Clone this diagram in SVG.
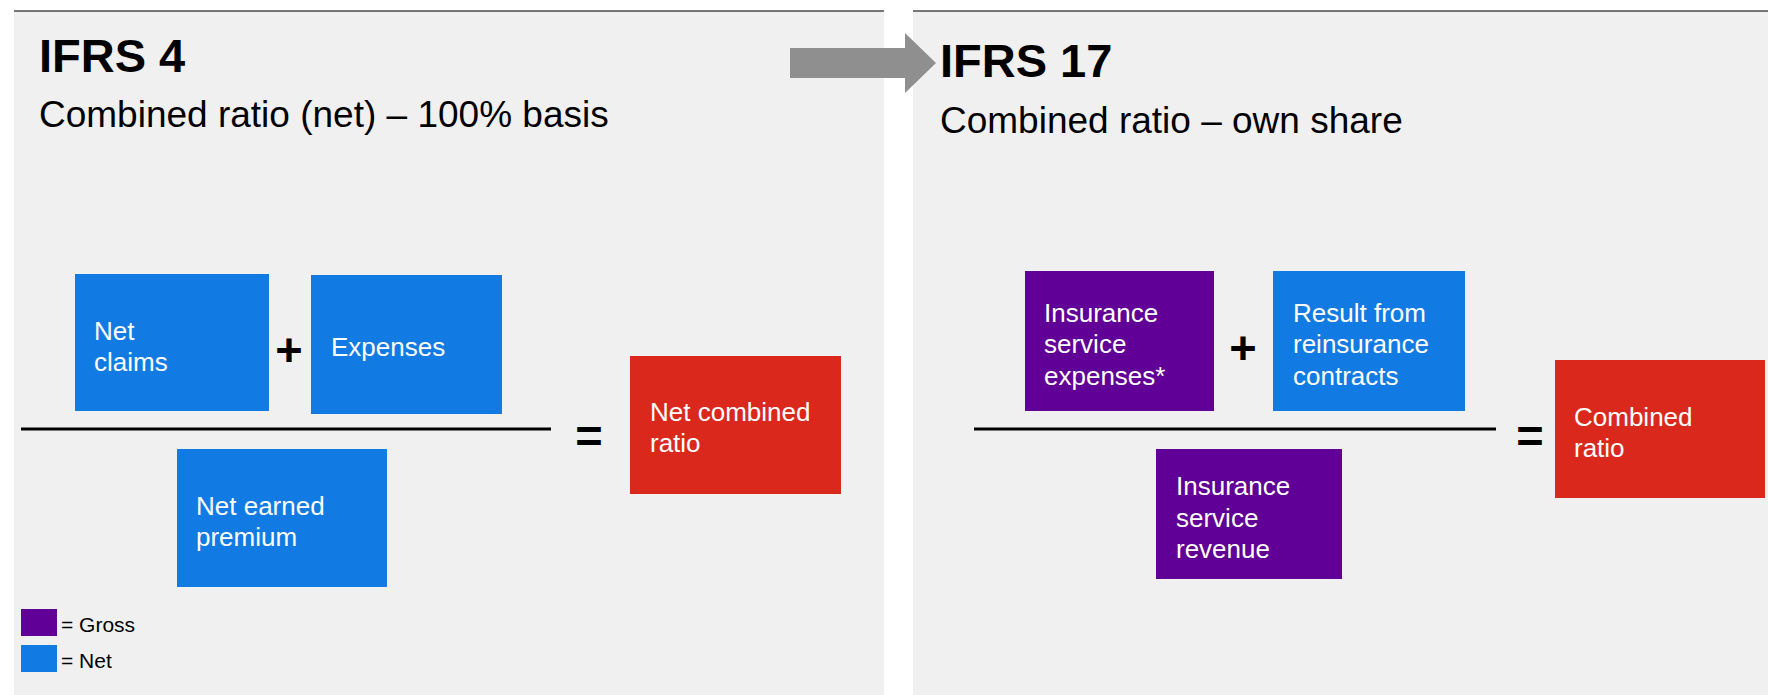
<svg xmlns="http://www.w3.org/2000/svg" width="1768" height="695" viewBox="0 0 1768 695">
  <style>
    .panel { fill: #f0f0f0; }
    .rule { stroke: #4d4d4d; stroke-width: 1.5; }
    .title { font-family: "Liberation Sans", Arial, sans-serif; font-weight: bold; font-size: 47px; fill: #000; }
    .sub { font-family: "Liberation Sans", Arial, sans-serif; font-size: 37px; fill: #000; }
    .net { fill: #127be3; }
    .gross { fill: #600096; }
    .result { fill: #da291c; }
    .lbl { font-family: "Liberation Sans", Arial, sans-serif; font-size: 26px; fill: #fff; }
    .op { font-family: "Liberation Sans", Arial, sans-serif; font-weight: bold; font-size: 47px; fill: #000; text-anchor: middle; }
    .bar { stroke: #000; stroke-width: 3; }
    .legend { font-family: "Liberation Sans", Arial, sans-serif; font-size: 21px; fill: #000; }
  </style>

  <!-- panels -->
  <rect class="panel" x="14" y="11" width="870" height="684"/>
  <rect class="panel" x="913" y="11" width="855" height="684"/>
  <line class="rule" x1="14" y1="11" x2="884" y2="11"/>
  <line class="rule" x1="913" y1="11" x2="1768" y2="11"/>

  <!-- headings -->
  <g id="heading-ifrs4">
    <text class="title" x="39" y="72">IFRS 4</text>
    <text class="sub" x="39" y="127">Combined ratio (net) – 100% basis</text>
  </g>
  <g id="heading-ifrs17">
    <text class="title" x="940" y="77">IFRS 17</text>
    <text class="sub" x="940" y="133">Combined ratio – own share</text>
  </g>

  <!-- transition arrow -->
  <g id="connectors">
    <path d="M790 48 H905 V33 L936 63 L905 93 V78 H790 Z" fill="#8f8f8f"/>
  </g>

  <!-- IFRS 4 formula -->
  <g id="net-claims">
    <rect class="net" x="75" y="274" width="194" height="137"/>
    <text class="lbl" x="94" y="340">Net</text>
    <text class="lbl" x="94" y="371">claims</text>
  </g>
  <text class="op" x="289" y="366">+</text>
  <g id="expenses">
    <rect class="net" x="311" y="275" width="191" height="139"/>
    <text class="lbl" x="331" y="356">Expenses</text>
  </g>
  <line class="bar" x1="21" y1="429" x2="551" y2="429"/>
  <g id="net-earned-premium">
    <rect class="net" x="177" y="449" width="210" height="138"/>
    <text class="lbl" x="196" y="515">Net earned</text>
    <text class="lbl" x="196" y="546">premium</text>
  </g>
  <text class="op" x="589" y="452">=</text>
  <g id="net-combined-ratio">
    <rect class="result" x="630" y="356" width="211" height="138"/>
    <text class="lbl" x="650" y="421">Net combined</text>
    <text class="lbl" x="650" y="452">ratio</text>
  </g>

  <!-- legend -->
  <g id="legend">
    <rect class="gross" x="21" y="609" width="36" height="27"/>
    <text class="legend" x="61" y="632">= Gross</text>
    <rect class="net" x="21" y="645" width="36" height="27"/>
    <text class="legend" x="61" y="668">= Net</text>
  </g>

  <!-- IFRS 17 formula -->
  <g id="insurance-service-expenses">
    <rect class="gross" x="1025" y="271" width="189" height="140"/>
    <text class="lbl" x="1044" y="322">Insurance</text>
    <text class="lbl" x="1044" y="353">service</text>
    <text class="lbl" x="1044" y="385">expenses*</text>
  </g>
  <text class="op" x="1243" y="364">+</text>
  <g id="reinsurance-result">
    <rect class="net" x="1273" y="271" width="192" height="140"/>
    <text class="lbl" x="1293" y="322">Result from</text>
    <text class="lbl" x="1293" y="353">reinsurance</text>
    <text class="lbl" x="1293" y="385">contracts</text>
  </g>
  <line class="bar" x1="974" y1="429" x2="1496" y2="429"/>
  <g id="insurance-service-revenue">
    <rect class="gross" x="1156" y="449" width="186" height="130"/>
    <text class="lbl" x="1176" y="495">Insurance</text>
    <text class="lbl" x="1176" y="527">service</text>
    <text class="lbl" x="1176" y="558">revenue</text>
  </g>
  <text class="op" x="1530" y="452">=</text>
  <g id="combined-ratio">
    <rect class="result" x="1555" y="360" width="210" height="138"/>
    <text class="lbl" x="1574" y="426">Combined</text>
    <text class="lbl" x="1574" y="457">ratio</text>
  </g>
</svg>
